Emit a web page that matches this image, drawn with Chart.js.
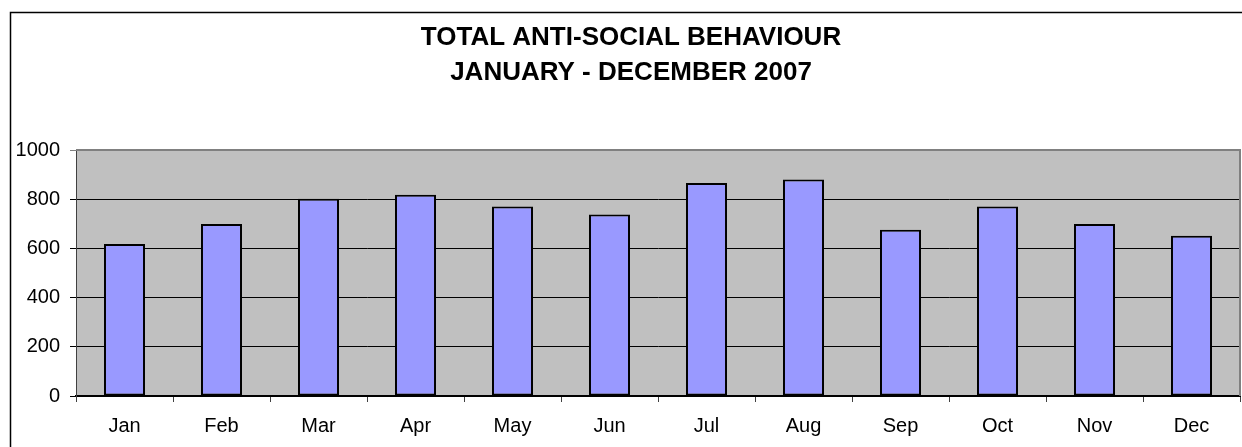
<!DOCTYPE html>
<html>
<head>
<meta charset="utf-8">
<script src="https://cdn.jsdelivr.net/npm/chart.js@4/dist/chart.umd.min.js"></script>
<style>
  html, body { margin: 0; padding: 0; background: #fff; }
  #wrap { width: 1242px; height: 447px; }
</style>
</head>
<body>
<div id="wrap"><canvas id="chart"></canvas></div>
<script>
/* Monthly totals, 2007 */
const months   = ['Jan', 'Feb', 'Mar', 'Apr', 'May', 'Jun', 'Jul', 'Aug', 'Sep', 'Oct', 'Nov', 'Dec'];
const incidents = [618, 699, 802, 818, 770, 738, 866, 880, 676, 770, 699, 651];
const yTicks   = [0, 200, 400, 600, 800, 1000];
const titleLines = ['TOTAL ANTI-SOCIAL BEHAVIOUR', 'JANUARY - DECEMBER 2007'];

const FONT = "'Liberation Sans', Arial, sans-serif";

/* grey plot background + outer frame lines */
const frame = {
  id: 'frame',
  afterLayout(chart) {
    // centre the title on the outer frame rather than the padded box
    chart.titleBlock.left += 12;
  },
  beforeDraw(chart) {
    const { ctx, chartArea: a } = chart;
    ctx.save();
    ctx.fillStyle = '#fff';
    ctx.fillRect(0, 0, chart.width, chart.height);
    ctx.fillStyle = '#c0c0c0';
    ctx.fillRect(a.left, a.top, a.right - a.left, a.bottom - a.top);
    ctx.strokeStyle = '#000';
    ctx.lineWidth = 1.5;
    ctx.beginPath();
    ctx.moveTo(10.5, chart.height);
    ctx.lineTo(10.5, 12.5);
    ctx.lineTo(chart.width, 12.5);
    ctx.stroke();
    ctx.restore();
  },
  afterDatasetsDraw(chart) {
    // plot border: grey top and right edges
    const { ctx, chartArea: a } = chart;
    ctx.save();
    ctx.strokeStyle = '#808080';
    ctx.lineWidth = 2;
    ctx.beginPath();
    ctx.moveTo(a.left, a.top);
    ctx.lineTo(a.right, a.top);
    ctx.lineTo(a.right, a.bottom);
    ctx.stroke();
    ctx.restore();
  }
};

new Chart(document.getElementById('chart'), {
  type: 'bar',
  data: {
    labels: months,
    datasets: [{
      data: incidents,
      backgroundColor: '#9999ff',
      borderColor: '#000',
      borderWidth: 2,
      borderSkipped: false,
      categoryPercentage: 1,
      barPercentage: 0.423,
    }],
  },
  options: {
    responsive: true,
    maintainAspectRatio: false,
    animation: false,
    layout: { padding: { left: 10, right: 2, top: 0, bottom: 0 } },
    plugins: {
      legend: { display: false },
      tooltip: { enabled: false },
      title: {
        display: true,
        text: titleLines,
        color: '#000',
        font: { family: FONT, size: 26, weight: 'bold', lineHeight: '35.5px' },
        padding: { top: 20, bottom: 59 },
      },
    },
    scales: {
      x: {
        offset: true,
        grid: {
          offset: true,
          drawOnChartArea: false,
          drawTicks: true,
          tickLength: 6,
          color: '#404040',
        },
        border: { color: '#000', width: 2 },
        ticks: { color: '#000', font: { family: FONT, size: 20 }, padding: 12, maxRotation: 0 },
        afterFit: s => { s.height = 51; },
      },
      y: {
        min: 0,
        max: 1000,
        afterBuildTicks: s => { s.ticks = yTicks.map(v => ({ value: v })); },
        grid: {
          color: ctx => (ctx.tick && ctx.tick.value === 1000 ? '#808080' : '#000'),
          lineWidth: 1,
          tickLength: 6,
        },
        border: { color: '#404040', width: 1 },
        ticks: {
          color: '#000',
          font: { family: FONT, size: 20 },
          padding: 10,
          callback: v => String(v),
        },
        afterFit: s => { s.width = 66; },
      },
    },
  },
  plugins: [frame],
});
</script>
</body>
</html>
